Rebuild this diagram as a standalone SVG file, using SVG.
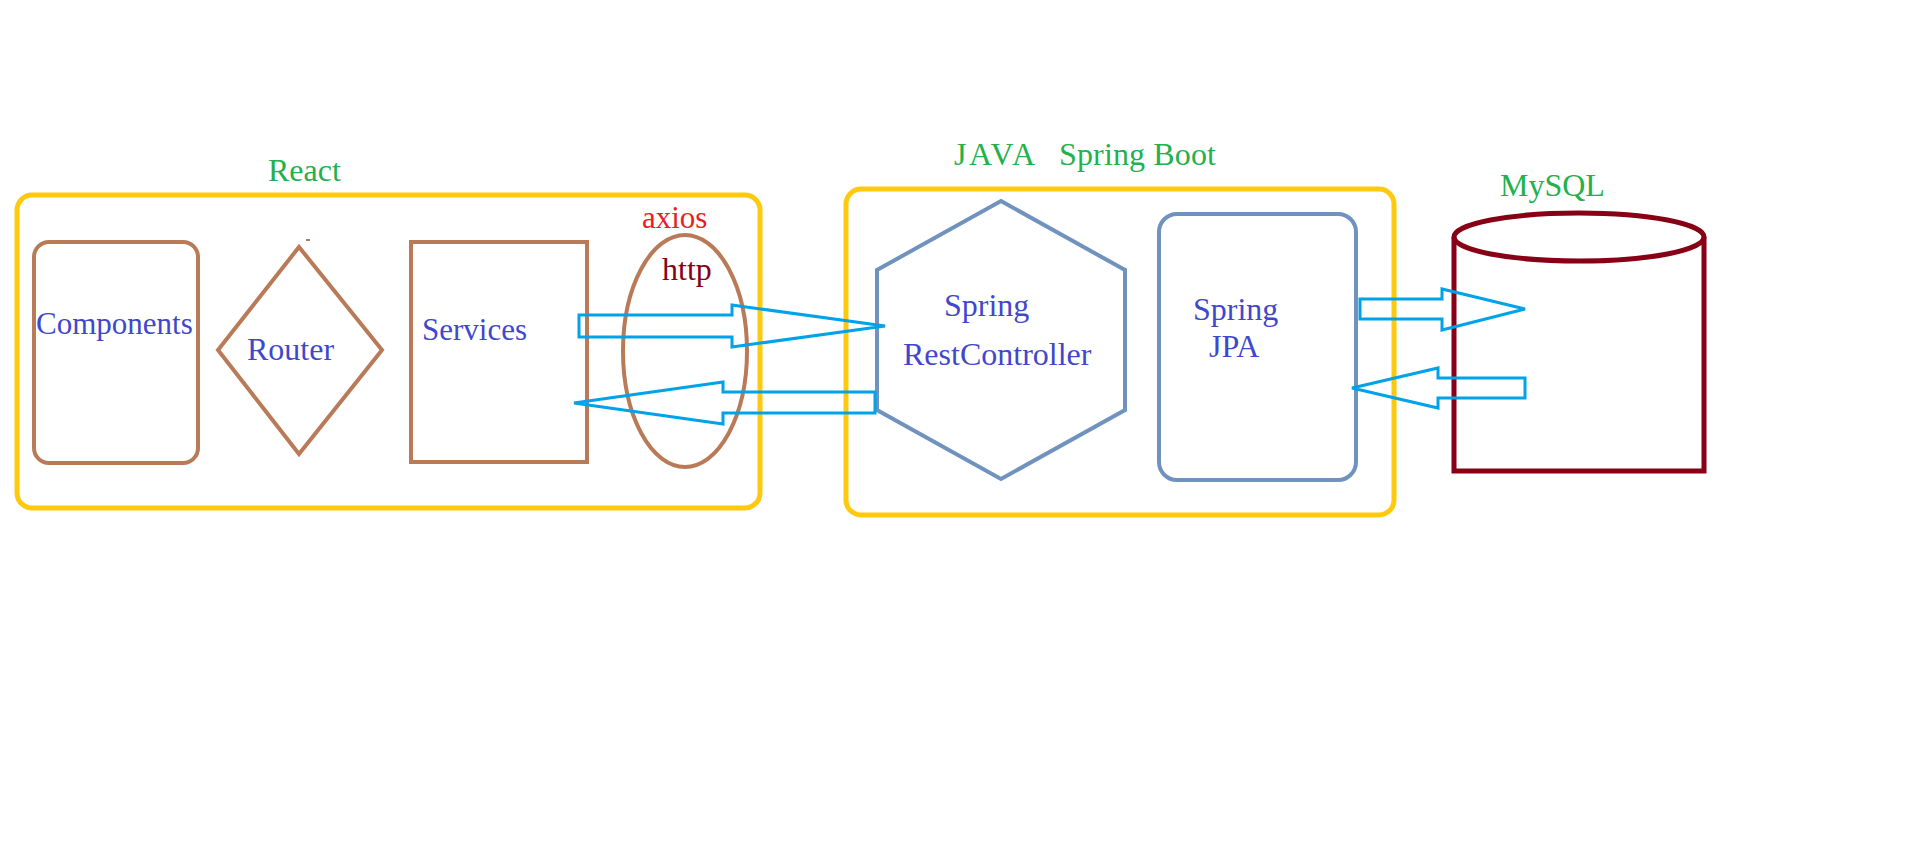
<svg xmlns="http://www.w3.org/2000/svg" width="1907" height="863" viewBox="0 0 1907 863">
<style>
text{font-family:"Liberation Serif","Times New Roman",serif;font-size:32px;white-space:pre}
.g{fill:#22b14c}.b{fill:#3f48cc}.r{fill:#ed1c24}.d{fill:#880015}
.y{fill:none;stroke:#ffc90e;stroke-width:5}
.br{fill:none;stroke:#b97a57;stroke-width:4}
.sb{fill:none;stroke:#7092be;stroke-width:4}
.ar{fill:none;stroke:#00a2e8;stroke-width:3}
.cy{fill:none;stroke:#880015;stroke-width:5}
</style>
<rect width="1907" height="863" fill="#ffffff"/>
<g id="react">
<rect class="y" x="17" y="195" width="743" height="313" rx="15"/>
<text class="g" x="268" y="181">React</text>
</g>
<g id="components">
<rect class="br" x="34" y="242" width="164" height="221" rx="15"/>
<text class="b" x="36" y="334" style="font-size:31px">Components</text>
</g>
<g id="router">
<polygon class="br" points="299,247 382,350 299,454 218,350"/>
<text class="b" x="247" y="360">Router</text>
<path d="M306,240 L310,240" stroke="#b97a57" stroke-width="2"/>
</g>
<g id="services">
<rect class="br" x="411" y="242" width="176" height="220"/>
<text class="b" x="422" y="340" style="font-size:31px">Services</text>
</g>
<g id="http">
<ellipse class="br" cx="685" cy="351" rx="62" ry="116"/>
<text class="r" x="642" y="228" style="font-size:31px">axios</text>
<text class="d" x="662" y="280">http</text>
</g>
<g id="springboot">
<rect class="y" x="846" y="189" width="548" height="326" rx="15"/>
<text class="g" x="954" y="165" textLength="81">JAVA</text>
<text class="g" x="1059" y="165" textLength="157">Spring Boot</text>
</g>
<g id="restcontroller">
<polygon class="sb" points="1001,201 1125,270 1125,410 1001,479 877,410 877,270"/>
<text class="b" x="944" y="316">Spring</text>
<text class="b" x="903" y="365">RestController</text>
</g>
<g id="jpa">
<rect class="sb" x="1159" y="214" width="197" height="266" rx="18"/>
<text class="b" x="1193" y="320">Spring</text>
<text class="b" x="1209" y="357">JPA</text>
</g>
<g id="mysql">
<path class="cy" d="M1454,237 L1454,471 L1704,471 L1704,237"/>
<ellipse class="cy" cx="1579" cy="237" rx="125" ry="24"/>
<text class="g" x="1500" y="196">MySQL</text>
</g>
<g id="connectors">
<polygon class="ar" points="579,315 732,315 732,305 885,326 732,347 732,337 579,337"/>
<polygon class="ar" points="574,403 723,382 723,392 875,392 875,413 723,413 723,424"/>
<polygon class="ar" points="1360,299 1442,299 1442,289 1525,309 1442,330 1442,319 1360,319"/>
<polygon class="ar" points="1352,388 1438,368 1438,378 1525,378 1525,398 1438,398 1438,408"/>
</g>
</svg>
